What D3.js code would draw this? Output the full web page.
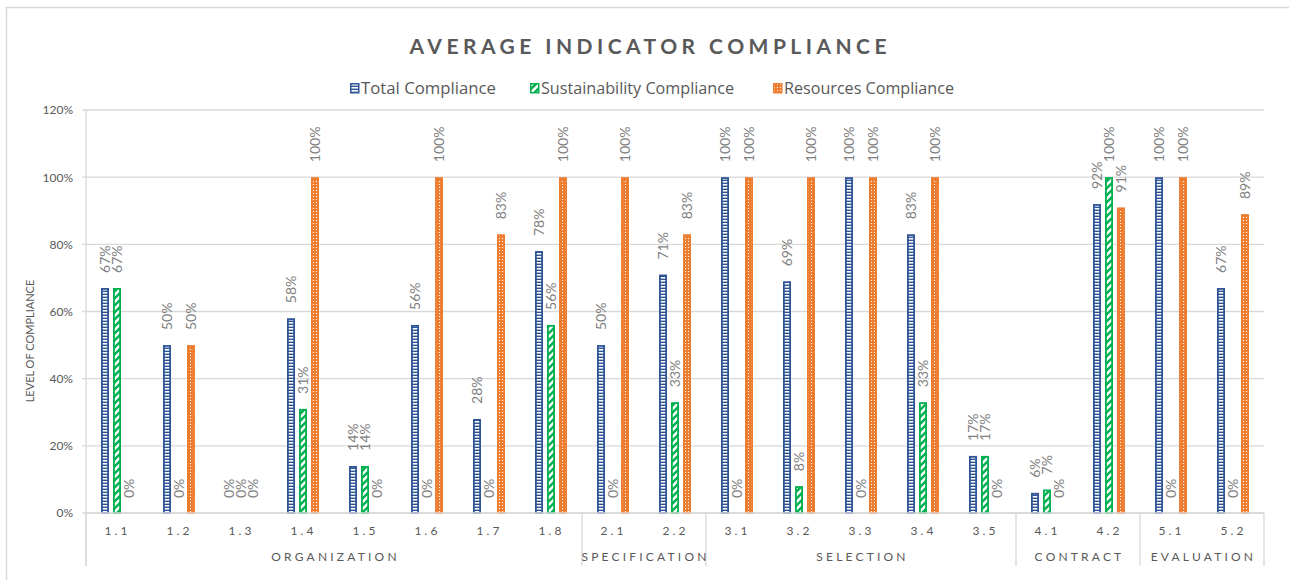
<!DOCTYPE html>
<html>
<head>
<meta charset="utf-8">
<script src="https://cdn.jsdelivr.net/npm/d3@7"></script>
<style>
  body { margin: 0; background: #fff; }
  svg { display: block; font-family: Lato, "Open Sans", sans-serif; }
</style>
</head>
<body>
<svg id="chart" width="1289" height="580"></svg>
<script>
const categories = ["1.1","1.2","1.3","1.4","1.5","1.6","1.7","1.8","2.1","2.2","3.1","3.2","3.3","3.4","3.5","4.1","4.2","5.1","5.2"];
const groups = [
  {name: "ORGANIZATION", from: "1.1", to: "1.8"},
  {name: "SPECIFICATION", from: "2.1", to: "2.2"},
  {name: "SELECTION", from: "3.1", to: "3.5"},
  {name: "CONTRACT", from: "4.1", to: "4.2"},
  {name: "EVALUATION", from: "5.1", to: "5.2"}
];
const seriesNames = ["Total Compliance", "Sustainability Compliance", "Resources Compliance"];
const totalValues =          [67, 50, 0, 58, 14, 56, 28, 78, 50, 71, 100, 69, 100, 83, 17, 6, 92, 100, 67];
const sustainabilityValues = [67, 0, 0, 31, 14, 0, 0, 56, 0, 33, 0, 8, 0, 33, 17, 7, 100, 0, 0];
const resourcesValues =      [0, 50, 0, 100, 0, 100, 83, 100, 100, 83, 100, 100, 100, 100, 0, 0, 91, 100, 89];
const yTicks = [0, 20, 40, 60, 80, 100, 120];

const seriesValues = [totalValues, sustainabilityValues, resourcesValues];
const colors = ["#2f5597", "#00b050", "#ed7d31"];
const patternIds = ["patTotal", "patSus", "patRes"];

const svg = d3.select("#chart");
const textColor = "#595959";

// patterns
const defs = svg.append("defs");
const p0 = defs.append("pattern").attr("id", "patTotal").attr("patternUnits", "userSpaceOnUse")
  .attr("width", 4).attr("height", 3);
p0.append("rect").attr("width", 4).attr("height", 3).attr("fill", colors[0]);
p0.append("rect").attr("y", 1).attr("width", 4).attr("height", 1.6).attr("fill", "#fff");

const p1 = defs.append("pattern").attr("id", "patSus").attr("patternUnits", "userSpaceOnUse")
  .attr("width", 7).attr("height", 7);
p1.append("rect").attr("width", 7).attr("height", 7).attr("fill", "#fff");
p1.append("path").attr("d", "M-1,8 L8,-1 M-1,1 L1,-1 M6,8 L8,6").attr("stroke", colors[1]).attr("stroke-width", 2.4);

const p2 = defs.append("pattern").attr("id", "patRes").attr("patternUnits", "userSpaceOnUse")
  .attr("width", 3).attr("height", 3);
p2.append("rect").attr("width", 3).attr("height", 3).attr("fill", colors[2]);
p2.append("rect").attr("x", 1).attr("y", 1).attr("width", 1).attr("height", 1).attr("fill", "#fff");

// chart border
svg.append("rect").attr("x", 6.5).attr("y", 7.5).attr("width", 1300).attr("height", 600)
  .attr("fill", "none").attr("stroke", "#d9d9d9").attr("stroke-width", 1.5);

const plotLeft = 86, plotRight = 1264, plotTop = 110, plotBottom = 513;
const x = d3.scaleBand().domain(categories).range([plotLeft, plotRight]).padding(0);
const xs = d3.scaleBand().domain(seriesNames).range([15, 47]).paddingInner(1/3).paddingOuter(0);
const y = d3.scaleLinear().domain([0, 120]).range([plotBottom, plotTop]);

// title
svg.append("text").attr("x", 648).attr("y", 54).attr("text-anchor", "middle")
  .attr("font-size", 21).attr("font-weight", "bold").attr("fill", textColor)
  .attr("textLength", 477).attr("lengthAdjust", "spacing")
  .text("AVERAGE INDICATOR COMPLIANCE");

// legend
const legendX = [350, 530, 773];
const legendW = [135, 193, 170];
seriesNames.forEach((s, i) => {
  const g = svg.append("g").attr("transform", `translate(${legendX[i]},83)`);
  g.append("rect").attr("x", 0.75).attr("y", 0.75).attr("width", 8).attr("height", 9)
    .attr("fill", `url(#${patternIds[i]})`).attr("stroke", colors[i]).attr("stroke-width", 1.5);
  g.append("text").attr("x", 11).attr("y", 11).attr("font-size", 16).attr("fill", textColor)
    .attr("font-family", "'Open Sans', sans-serif")
    .attr("textLength", legendW[i]).attr("lengthAdjust", "spacingAndGlyphs").text(s);
});

// y gridlines & axis
const yAxis = d3.axisLeft(y).tickValues(yTicks).tickFormat(d => d + "%").tickSize(0).tickPadding(13);
const gy = svg.append("g").attr("transform", `translate(${plotLeft},0)`).call(yAxis);
gy.select(".domain").remove();
gy.selectAll("text").attr("font-size", 12).attr("fill", textColor).attr("font-family", "Lato, sans-serif");
svg.append("g").selectAll("line").data(yTicks).join("line")
  .attr("x1", plotLeft - 4).attr("x2", plotRight).attr("y1", d => y(d)).attr("y2", d => y(d))
  .attr("stroke", "#d9d9d9").attr("stroke-width", 1.3);
svg.append("line").attr("x1", plotLeft).attr("x2", plotLeft).attr("y1", plotTop).attr("y2", 566)
  .attr("stroke", "#d9d9d9").attr("stroke-width", 1.3);

// y axis title
svg.append("text").attr("transform", "translate(34,341) rotate(-90)").attr("text-anchor", "middle")
  .attr("font-size", 11).attr("fill", textColor).text("LEVEL OF COMPLIANCE");

// bars
seriesNames.forEach((s, i) => {
  const vals = seriesValues[i];
  const g = svg.append("g");
  g.selectAll("rect").data(categories.map((c, j) => ({c, v: vals[j]})).filter(d => d.v > 0)).join("rect")
    .attr("x", d => x(d.c) + xs(s) + 0.9)
    .attr("y", d => y(d.v) + 0.9)
    .attr("width", xs.bandwidth() - 1.8)
    .attr("height", d => y(0) - y(d.v) - 0.9)
    .attr("fill", `url(#${patternIds[i]})`)
    .attr("stroke", colors[i]).attr("stroke-width", 1.8);
  svg.append("g").selectAll("text").data(categories.map((c, j) => ({c, v: vals[j]}))).join("text")
    .attr("transform", d => `translate(${x(d.c) + xs(s) + xs.bandwidth() / 2},${y(d.v) - 15}) rotate(-90)`)
    .attr("dy", "0.36em").attr("font-size", 14).attr("fill", "#808080")
    .text(d => d.v + "%");
});

// x axis line
svg.append("line").attr("x1", plotLeft).attr("x2", plotRight).attr("y1", plotBottom).attr("y2", plotBottom)
  .attr("stroke", "#d9d9d9").attr("stroke-width", 1.3);

// category labels
svg.append("g").selectAll("text").data(categories).join("text")
  .attr("x", d => x(d) + x.bandwidth() / 2 + 0.5).attr("y", 535).attr("text-anchor", "middle")
  .attr("font-size", 12).attr("letter-spacing", 3).attr("fill", textColor).text(d => d);

// group separators and labels
const bounds = [plotLeft].concat(groups.map(g => x(g.to) + x.bandwidth()));
svg.append("g").selectAll("line").data(bounds).join("line")
  .attr("x1", d => d).attr("x2", d => d).attr("y1", plotBottom).attr("y2", 566)
  .attr("stroke", "#d9d9d9").attr("stroke-width", 1.3);
svg.append("g").selectAll("text").data(groups).join("text")
  .attr("x", g => (x(g.from) + x(g.to) + x.bandwidth()) / 2 + 1.5).attr("y", 561).attr("text-anchor", "middle")
  .attr("font-size", 12).attr("letter-spacing", 3.2).attr("fill", textColor).text(g => g.name);
</script>
</body>
</html>
